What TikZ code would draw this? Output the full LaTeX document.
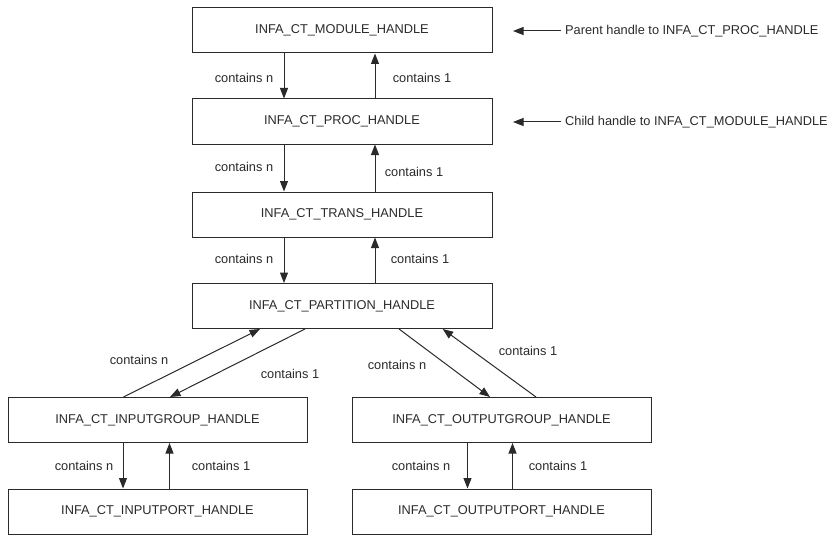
\documentclass[tikz,border=0pt]{standalone}
\usepackage{fontspec}
\setmainfont{Liberation Sans}
\usetikzlibrary{arrows.meta}
\definecolor{ink}{HTML}{2A2A2A}
\tikzset{
  box/.style={draw=ink, line width=1pt, minimum height=45pt, inner sep=0pt, font=\fontsize{12.8}{14}\selectfont, text=ink},
  wide/.style={box, minimum width=300pt},
  half/.style={box, minimum width=299pt},
  arr/.style={draw=ink, line width=1pt, -{Triangle[length=10.5pt,width=8pt]}},
  lbl/.style={font=\fontsize{12.8}{14}\selectfont, text=ink, inner sep=0pt},
}
\begin{document}
\begin{tikzpicture}[x=1pt,y=-1pt]
\useasboundingbox (0,0) rectangle (831,535);
% boxes
\node[wide] (module) at (342,30.5) {INFA\_CT\_MODULE\_HANDLE};
\node[wide] (proc) at (342,121.5) {INFA\_CT\_PROC\_HANDLE};
\node[wide] (trans) at (342,214.5) {INFA\_CT\_TRANS\_HANDLE};
\node[wide] (part) at (342,306) {INFA\_CT\_PARTITION\_HANDLE};
\node[half] (ig) at (157.5,420) {INFA\_CT\_INPUTGROUP\_HANDLE};
\node[half] (og) at (501.5,420) {INFA\_CT\_OUTPUTGROUP\_HANDLE};
\node[half] (ip) at (157.5,511.5) {INFA\_CT\_INPUTPORT\_HANDLE};
\node[half] (op) at (501.5,511.5) {INFA\_CT\_OUTPUTPORT\_HANDLE};
% vertical connectors
\draw[arr] ([xshift=-58pt]module.south) -- ([xshift=-58pt]proc.north);
\draw[arr] ([xshift=33pt]proc.north) -- ([xshift=33pt]module.south);
\draw[arr] ([xshift=-58pt]proc.south) -- ([xshift=-58pt]trans.north);
\draw[arr] ([xshift=33pt]trans.north) -- ([xshift=33pt]proc.south);
\draw[arr] ([xshift=-58pt]trans.south) -- ([xshift=-58pt]part.north);
\draw[arr] ([xshift=33pt]part.north) -- ([xshift=33pt]trans.south);
\draw[arr] ([xshift=-34.5pt]ig.south) -- ([xshift=-34.5pt]ip.north);
\draw[arr] ([xshift=12pt]ip.north) -- ([xshift=12pt]ig.south);
\draw[arr] ([xshift=-34pt]og.south) -- ([xshift=-34pt]op.north);
\draw[arr] ([xshift=11pt]op.north) -- ([xshift=11pt]og.south);
% diagonal connectors
\draw[arr] ([xshift=-34pt]ig.north) -- ([xshift=-82pt]part.south);
\draw[arr] ([xshift=-37pt]part.south) -- ([xshift=12.5pt]ig.north);
\draw[arr] ([xshift=57pt]part.south) -- ([xshift=-11.5pt]og.north);
\draw[arr] ([xshift=34.5pt]og.north) -- ([xshift=100.7pt]part.south);
% labels
\node[lbl] (l1n) at (244,78) {contains n};
\node[lbl] (l11) at (422,77.5) {contains 1};
\node[lbl] (l2n) at (244,167) {contains n};
\node[lbl] (l21) at (414,172) {contains 1};
\node[lbl] (l3n) at (244,259) {contains n};
\node[lbl] (l31) at (420,259) {contains 1};
\node[lbl] (ldn) at (139,360) {contains n};
\node[lbl] (ld1) at (290,374) {contains 1};
\node[lbl] (rdn) at (397,365) {contains n};
\node[lbl] (rd1) at (528,351) {contains 1};
\node[lbl] (ign) at (84,466) {contains n};
\node[lbl] (ig1) at (221,466) {contains 1};
\node[lbl] (ogn) at (421,466) {contains n};
\node[lbl] (og1) at (558,466) {contains 1};
% annotations
\node[lbl, anchor=west] (parent) at (565,31) {Parent handle to INFA\_CT\_PROC\_HANDLE};
\node[lbl, anchor=west] (child) at (565,122) {Child handle to INFA\_CT\_MODULE\_HANDLE};
\coordinate (pa) at (513,31);
\coordinate (ch) at (513,122);
\draw[arr] (parent.west) ++(-4pt,0) -- (pa);
\draw[arr] (child.west) ++(-4pt,0) -- (ch);
\end{tikzpicture}
\end{document}
